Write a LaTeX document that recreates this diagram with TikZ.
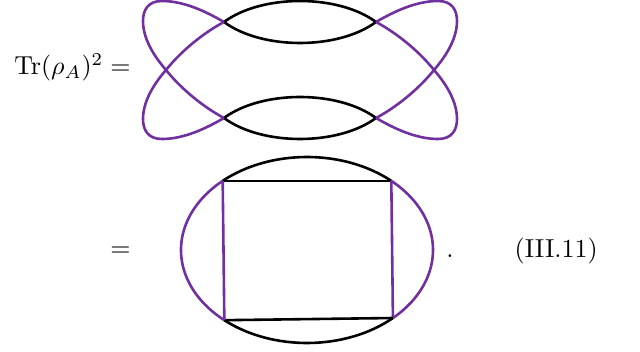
\documentclass[tikz,border=0pt]{standalone}
\usepackage{amsmath,amssymb}
\usepackage{tikz}
\usetikzlibrary{positioning,calc}
\usepackage{xcolor}
\definecolor{violetA}{RGB}{112,48,160}

\begin{document}
\begin{tikzpicture}[
  x=0.385pt,y=-0.385pt,
  line width=1pt,
  blk/.style={draw=black},
  vio/.style={draw=violetA},
  lbl/.style={inner sep=0pt}
]
\useasboundingbox (0,0) rectangle (640,352);

% first line
\node[lbl, anchor=base east] (lhs) at (132,75) {$\mathrm{Tr}(\rho_A)^2 =$};

\coordinate (tl) at (224,22);
\coordinate (tr) at (376,22);
\coordinate (bl) at (224,118);
\coordinate (br) at (376,118);
\coordinate (lx) at (166,70);
\coordinate (rx) at (434,70);

\draw[blk] (tl) .. controls (262,-6) and (338,-6) .. (tr);
\draw[blk] (tl) .. controls (262,50) and (338,50) .. (tr);
\draw[blk] (bl) .. controls (262,90) and (338,90) .. (br);
\draw[blk] (bl) .. controls (262,146) and (338,146) .. (br);

\draw[vio] (tl) .. controls (200,8) and (180,1) .. (162,1)
  .. controls (148,1) and (143,10) .. (143,21)
  .. controls (143,38) and (153,55) .. (lx)
  .. controls (182,90) and (205,108) .. (bl);
\draw[vio] (bl) .. controls (200,132) and (180,139) .. (162,139)
  .. controls (148,139) and (143,130) .. (143,119)
  .. controls (143,102) and (153,85) .. (lx)
  .. controls (182,50) and (205,32) .. (tl);
\draw[vio] (tr) .. controls (400,8) and (420,1) .. (438,1)
  .. controls (452,1) and (457,10) .. (457,21)
  .. controls (457,38) and (447,55) .. (rx)
  .. controls (418,90) and (395,108) .. (br);
\draw[vio] (br) .. controls (400,132) and (420,139) .. (438,139)
  .. controls (452,139) and (457,130) .. (457,119)
  .. controls (457,102) and (447,85) .. (rx)
  .. controls (418,50) and (395,32) .. (tr);

% second line
\node[lbl, anchor=base east] (eq) at (132,257) {$=$};

\coordinate (oc) at (307,250);
\draw[blk] (oc) ++(228:126 and 93) coordinate (qtl)
  arc[start angle=228, end angle=312, x radius=126, y radius=93] coordinate (qtr);
\draw[vio] (qtr) arc[start angle=312, end angle=407, x radius=126, y radius=93] coordinate (qbr);
\draw[blk] (qbr) arc[start angle=47, end angle=131, x radius=126, y radius=93] coordinate (qbl);
\draw[vio] (qbl) arc[start angle=131, end angle=228, x radius=126, y radius=93];

\draw[blk] (qtl) -- (qtr);
\draw[vio] (qtr) -- (qbr);
\draw[blk] (qbr) -- (qbl);
\draw[vio] (qbl) -- (qtl);

\node[lbl, anchor=base west] (dot) at (445,258) {.};
\node[lbl, anchor=base east] (tag) at (599,258) {(III.11)};

\end{tikzpicture}
\end{document}
